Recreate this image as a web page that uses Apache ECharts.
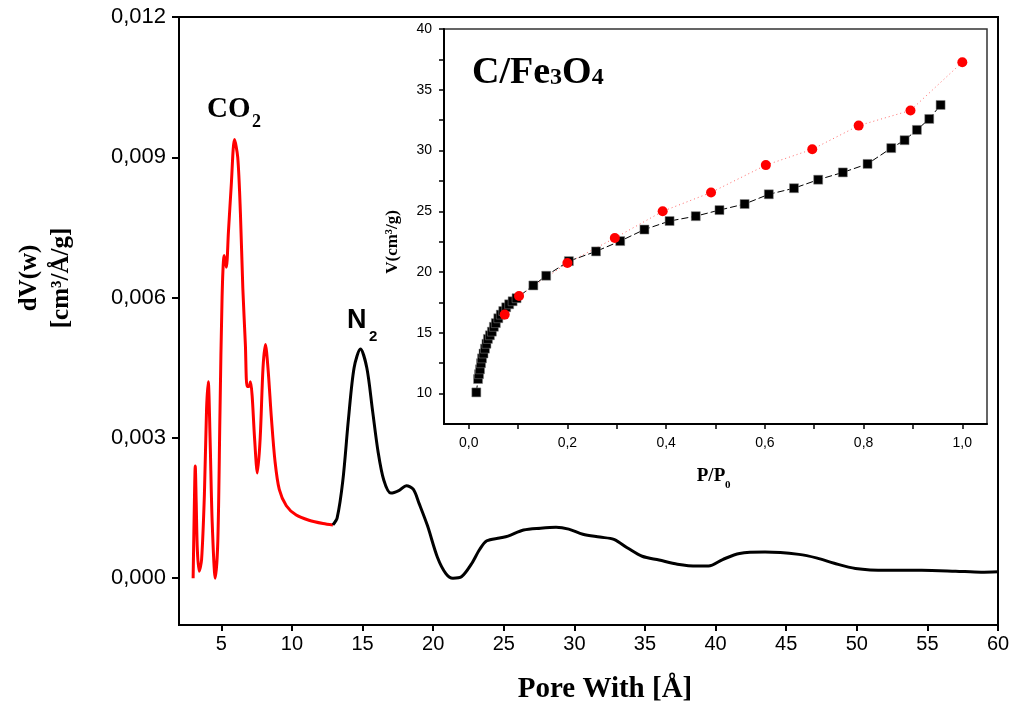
<!DOCTYPE html>
<html>
<head>
<meta charset="utf-8">
<script src="https://cdn.jsdelivr.net/npm/echarts@6/dist/echarts.min.js"></script>
<style>
  html, body { margin: 0; padding: 0; background: #fff; }
  #chart { width: 1015px; height: 708px; }
</style>
</head>
<body>
<div id="chart"></div>
<script>
// pore size distribution, CO2 part (red)
const poreRed = [3.0, 3.1, 3.15, 3.22, 3.3, 3.43, 3.6, 3.8, 3.95, 4.07, 4.2, 4.35, 4.57, 4.75, 4.9, 5.05, 5.2, 5.35, 5.5, 5.7, 5.93, 6.16, 6.35, 6.52, 6.7, 6.82, 6.95, 7.06, 7.18, 7.35, 7.55, 7.75, 7.95, 8.12, 8.3, 8.55, 8.8, 9.1, 9.6, 10.3, 11.2, 12.2, 12.9];
const dvRed = [0.0, 0.0018, 0.0024, 0.0016, 0.0006, 0.00015, 0.0004, 0.0018, 0.0036, 0.0042, 0.003, 0.0012, 0.0, 0.0008, 0.0035, 0.006, 0.0069, 0.00665, 0.0074, 0.0084, 0.00938, 0.009, 0.0078, 0.0062, 0.005, 0.0041, 0.0041, 0.0042, 0.0039, 0.003, 0.00225, 0.003, 0.0045, 0.005, 0.0045, 0.0034, 0.0025, 0.0019, 0.00155, 0.00135, 0.00124, 0.00117, 0.00114];

// N2 part (black)
const poreBlack = [12.9, 13.2, 13.6, 14.0, 14.4, 14.85, 15.3, 15.7, 16.1, 16.5, 17.0, 17.6, 18.1, 18.6, 19.0, 19.6, 20.3, 20.9, 21.4, 22.0, 22.7, 23.3, 23.8, 24.7, 25.3, 26.4, 27.6, 28.7, 29.6, 30.6, 31.8, 32.8, 33.8, 34.8, 36.0, 37.3, 38.7, 39.5, 40.5, 41.7, 43.5, 45.9, 47.2, 48.4, 49.9, 52.1, 54.6, 57.0, 58.8, 60.0];
const dvBlack = [0.00114, 0.00129, 0.00208, 0.0034, 0.0045, 0.0049, 0.0045, 0.0036, 0.0027, 0.0021, 0.00182, 0.00188, 0.00198, 0.0019, 0.0016, 0.00112, 0.00045, 0.0001, 0.0, 0.00003, 0.0003, 0.00062, 0.0008, 0.00086, 0.0009, 0.00103, 0.00107, 0.00109, 0.00105, 0.00094, 0.00088, 0.00083, 0.00064, 0.00047, 0.00039, 0.0003, 0.00026, 0.00026, 0.0004, 0.00053, 0.00056, 0.00051, 0.00043, 0.00032, 0.00021, 0.00017, 0.00017, 0.00015, 0.00013, 0.00014];

// inset isotherm: adsorption (black squares)
const adsP = [0.0155, 0.019, 0.021, 0.023, 0.025, 0.027, 0.030, 0.033, 0.036, 0.039, 0.043, 0.047, 0.051, 0.055, 0.060, 0.065, 0.070, 0.076, 0.082, 0.089, 0.097, 0.131, 0.157, 0.203, 0.258, 0.307, 0.356, 0.407, 0.460, 0.508, 0.559, 0.608, 0.659, 0.708, 0.758, 0.808, 0.856, 0.883, 0.908, 0.933, 0.956];
const adsV = [10.1, 11.2, 11.6, 12.0, 12.5, 12.9, 13.3, 13.7, 14.1, 14.5, 14.8, 15.1, 15.5, 15.8, 16.2, 16.5, 16.8, 17.1, 17.35, 17.6, 17.85, 18.9, 19.7, 20.9, 21.7, 22.55, 23.5, 24.2, 24.6, 25.1, 25.6, 26.4, 26.9, 27.6, 28.2, 28.9, 30.2, 30.85, 31.7, 32.6, 33.75];

// desorption (red circles)
const desP = [0.073, 0.102, 0.2, 0.296, 0.393, 0.491, 0.602, 0.696, 0.79, 0.895, 1.0];
const desV = [16.5, 18.03, 20.74, 22.8, 25.0, 26.55, 28.8, 30.1, 32.05, 33.3, 37.27];

// ticks
const poreTicks = [5, 10, 15, 20, 25, 30, 35, 40, 45, 50, 55, 60];
const dvTicks = [0, 0.003, 0.006, 0.009, 0.012];
const relLabels = [0, 0.2, 0.4, 0.6, 0.8, 1.0];
const relTicks = [0, 0.1, 0.2, 0.3, 0.4, 0.5, 0.6, 0.7, 0.8, 0.9, 1.0];
const volLabels = [10, 15, 20, 25, 30, 35, 40];
const volTicks = [10, 12.5, 15, 17.5, 20, 22.5, 25, 27.5, 30, 32.5, 35, 37.5, 40];

const zip = (a, b) => a.map((v, i) => [v, b[i]]);
const comma = (v, d) => v.toFixed(d).replace('.', ',');

const sans = '"Liberation Sans", Arial, sans-serif';
const serif = '"Liberation Serif", "Times New Roman", serif';

const chart = echarts.init(document.getElementById('chart'));

const option = {
    backgroundColor: '#fff',
    animation: false,
    grid: [
        { left: 179, top: 17, right: 17, bottom: 83, show: true, borderColor: '#000', borderWidth: 2, backgroundColor: 'transparent' },
        { left: 444, top: 29, right: 28, bottom: 284, show: true, borderColor: '#333', borderWidth: 1.5, backgroundColor: '#fff' }
    ],
    xAxis: [
        {
            type: 'value', gridIndex: 0, position: 'bottom', min: 2, max: 60,
            axisLine: { onZero: false, lineStyle: { color: '#000', width: 2 } },
            axisTick: { customValues: poreTicks, length: 6, lineStyle: { color: '#000', width: 2 } },
            axisLabel: { customValues: poreTicks, color: '#000', fontSize: 20, fontFamily: sans, margin: 9 },
            splitLine: { show: false }
        },
        {
            type: 'value', gridIndex: 1, position: 'bottom', min: -0.05, max: 1.05,
            axisLine: { onZero: false, lineStyle: { color: '#000', width: 2 } },
            axisTick: { customValues: relTicks, length: 5, lineStyle: { color: '#000', width: 1.5 } },
            axisLabel: { customValues: relLabels, color: '#000', fontSize: 14, fontFamily: sans, margin: 12, formatter: v => comma(v, 1) },
            splitLine: { show: false }
        }
    ],
    yAxis: [
        {
            type: 'value', gridIndex: 0, position: 'left', min: -0.001, max: 0.012,
            axisLine: { show: true, onZero: false, lineStyle: { color: '#000', width: 2 } },
            axisTick: { show: true, customValues: dvTicks, length: 7, lineStyle: { color: '#000', width: 2 } },
            axisLabel: { customValues: dvTicks, color: '#000', fontSize: 22, fontFamily: sans, margin: 13, formatter: v => comma(v, 3) },
            splitLine: { show: false }
        },
        {
            type: 'value', gridIndex: 1, position: 'left', min: 7.5, max: 40,
            axisLine: { show: true, onZero: false, lineStyle: { color: '#000', width: 2 } },
            axisTick: { show: true, customValues: volTicks, length: 5, lineStyle: { color: '#000', width: 1.5 } },
            axisLabel: { customValues: volLabels, color: '#000', fontSize: 14, fontFamily: sans, margin: 12 },
            splitLine: { show: false }
        }
    ],
    graphic: [
        { type: 'text', x: 46, y: 278, rotation: Math.PI / 2, style: { text: 'dV(w)\n[cm³/Å/g]', font: 'bold 25px ' + serif, fill: '#000', align: 'center', verticalAlign: 'middle', lineHeight: 32 } },
        { type: 'text', x: 605, y: 690, style: { text: 'Pore With [Å]', font: 'bold 29px ' + serif, fill: '#000', align: 'center', verticalAlign: 'middle' } },
        { type: 'text', x: 393, y: 242, rotation: Math.PI / 2, style: { text: 'V(cm³/g)', font: 'bold 17px ' + serif, fill: '#000', align: 'center', verticalAlign: 'middle' } },
        { type: 'text', x: 711, y: 476, style: { text: 'P/P', font: 'bold 19px ' + serif, fill: '#000', align: 'center', verticalAlign: 'middle' } },
        { type: 'text', x: 725, y: 485, style: { text: '0', font: 'bold 11px ' + serif, fill: '#000', align: 'left', verticalAlign: 'middle' } },
        { type: 'text', x: 207, y: 110, style: { text: 'CO', font: 'bold 29px ' + serif, fill: '#000', align: 'left', verticalAlign: 'middle' } },
        { type: 'text', x: 252, y: 122, style: { text: '2', font: 'bold 18px ' + serif, fill: '#000', align: 'left', verticalAlign: 'middle' } },
        { type: 'text', x: 347, y: 321, style: { text: 'N', font: 'bold 27px ' + sans, fill: '#000', align: 'left', verticalAlign: 'middle' } },
        { type: 'text', x: 369, y: 337, style: { text: '2', font: 'bold 15px ' + sans, fill: '#000', align: 'left', verticalAlign: 'middle' } },
        {
            type: 'text', x: 472, y: 92,
            style: {
                text: '{a|C/Fe}{b|3}{a|O}{b|4}', fill: '#000', align: 'left', verticalAlign: 'bottom',
                rich: {
                    a: { font: 'bold 38px ' + serif, verticalAlign: 'bottom' },
                    b: { font: 'bold 24px ' + serif, verticalAlign: 'bottom', padding: [0, 0, 2, 0] }
                }
            }
        }
    ],
    series: [
        {
            name: 'CO2', type: 'line', xAxisIndex: 0, yAxisIndex: 0,
            data: zip(poreRed, dvRed), smooth: 0.3, symbol: 'none',
            lineStyle: { color: '#ff0000', width: 3 }
        },
        {
            name: 'N2', type: 'line', xAxisIndex: 0, yAxisIndex: 0,
            data: zip(poreBlack, dvBlack), smooth: 0.3, symbol: 'none',
            lineStyle: { color: '#000', width: 3 }
        },
        {
            name: 'adsorption', type: 'line', xAxisIndex: 1, yAxisIndex: 1,
            data: zip(adsP, adsV), symbol: 'rect', symbolSize: 9,
            itemStyle: { color: '#000', borderColor: '#888', borderWidth: 0.5 },
            lineStyle: { color: '#000', width: 1, type: [7, 3] }
        },
        {
            name: 'desorption', type: 'line', xAxisIndex: 1, yAxisIndex: 1,
            data: zip(desP, desV), symbol: 'circle', symbolSize: 10,
            itemStyle: { color: '#ff0000' },
            lineStyle: { color: '#ff6a6a', width: 1, type: [1, 3] },
            z: 3
        }
    ]
};

chart.setOption(option);
</script>
</body>
</html>
